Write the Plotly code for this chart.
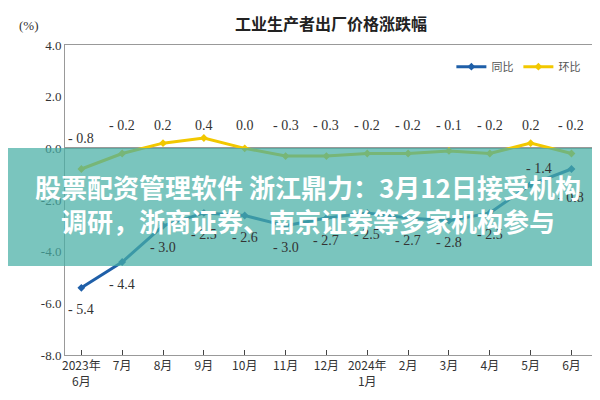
import plotly.graph_objects as go

months = ["2023年<br>6月", "7月", "8月", "9月", "10月", "11月", "12月", "2024年<br>1月",
          "2月", "3月", "4月", "5月", "6月"]
yoy = [-5.4, -4.4, -3.0, -2.5, -2.6, -3.0, -2.7, -2.5, -2.7, -2.8, -2.5, -1.4, -0.8]
mom = [-0.8, -0.2, 0.2, 0.4, 0.0, -0.3, -0.3, -0.2, -0.2, -0.1, -0.2, 0.2, -0.2]
yticks = [4, 2, 0, -2, -4, -6, -8]

serif = "Liberation Serif"
fig = go.Figure()
fig.add_trace(go.Scatter(x=list(range(len(months))), y=yoy, name="同比", mode="lines+markers",
                         line=dict(color="#1f5fa8", width=3), marker=dict(size=6, symbol="diamond")))
fig.add_trace(go.Scatter(x=list(range(len(months))), y=mom, name="环比", mode="lines+markers",
                         line=dict(color="#f2c800", width=3), marker=dict(size=6, symbol="diamond")))

# data labels
for i, v in enumerate(mom):
    fig.add_annotation(x=i, y=0.4 if i == 0 else 0.9, text=f"{v:.1f}".replace("-", "- "), showarrow=False,
                       font=dict(family=serif, size=14, color="#333"))
for i, v in enumerate(yoy):
    if i == 11:
        ys, xs = 16, 8
    elif i == 12:
        ys, xs = -28, 0
    else:
        ys, xs = -22, 0
    fig.add_annotation(x=i, y=v, text=f"{v:.1f}".replace("-", "- "), showarrow=False,
                       yshift=ys, xshift=xs, font=dict(family=serif, size=14, color="#333"))

# overlay banner
fig.add_shape(type="rect", xref="paper", yref="paper", x0=-0.2, x1=1.1, y0=0.287, y1=0.668,
              fillcolor="rgba(70,175,165,0.72)", line=dict(width=0), layer="above")
fig.add_annotation(xref="paper", yref="paper", x=0.458, y=0.49,
                   text="<b>股票配资管理软件 浙江鼎力：3月12日接受机构<br>调研，浙商证券、南京证券等多家机构参与</b>",
                   showarrow=False, font=dict(family="Noto Sans CJK SC", size=26, color="white"),
                   align="center")

fig.add_annotation(xref="paper", yref="paper", x=0.5, y=1.0, yanchor="bottom", yshift=8,
                   text="<b>工业生产者出厂价格涨跌幅</b>", showarrow=False,
                   font=dict(family="Noto Sans CJK SC", size=16, color="#222"))
fig.add_annotation(xref="paper", yref="paper", x=-0.09, y=1.0, yanchor="bottom", yshift=10,
                   text="(%)", showarrow=False, font=dict(family=serif, size=13, color="#333"))

fig.update_layout(
    width=600, height=400, margin=dict(l=57, r=12, t=37, b=53),
    plot_bgcolor="white", paper_bgcolor="white", showlegend=True,
    legend=dict(orientation="h", x=0.98, xanchor="right", y=0.93, yanchor="middle",
                font=dict(family="Noto Sans CJK SC", size=11, color="#555"), bgcolor="rgba(0,0,0,0)"),
    font=dict(family=serif, size=13, color="#333"),
)
fig.update_xaxes(range=[-0.4, 12.6], tickvals=list(range(len(months))), ticktext=months,
                 showline=True, linecolor="#999", mirror=True, ticks="inside", showgrid=False,
                 tickfont=dict(family="Noto Sans CJK SC", size=12))
fig.update_yaxes(range=[-8, 4], tickvals=yticks, ticktext=[f"{t:.1f}" for t in yticks],
                 showline=True, linecolor="#999", mirror=True, showgrid=False,
                 zeroline=True, zerolinecolor="#999")
fig.write_html("out.html")
